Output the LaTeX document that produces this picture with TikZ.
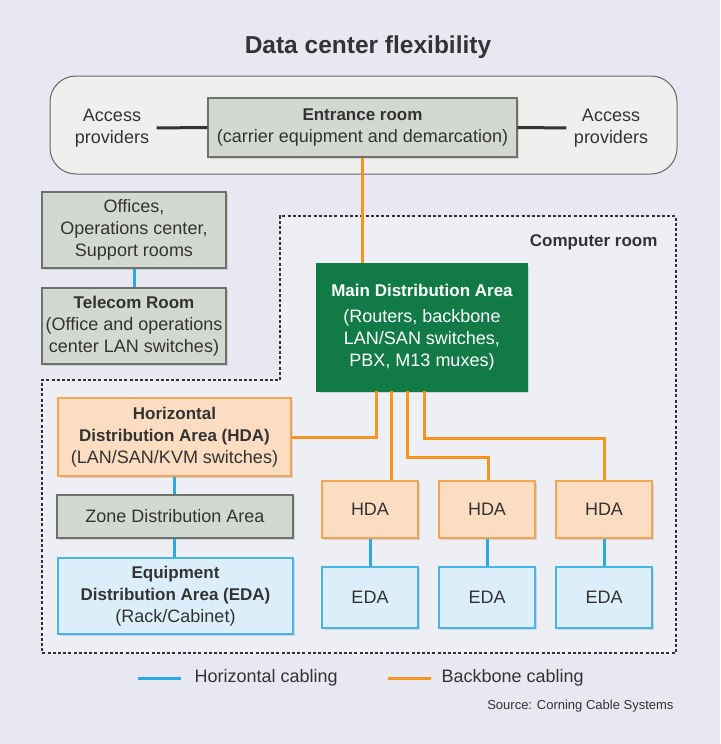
\documentclass[tikz,border=0pt]{standalone}
\usepackage{fontspec}
\setmainfont{Liberation Sans}
\usetikzlibrary{shadows,calc}
\definecolor{bg}{HTML}{E8E8F2}
\definecolor{roomfill}{HTML}{EEEEF5}
\definecolor{outerfill}{HTML}{EFF0EE}
\definecolor{grayfill}{HTML}{D3D8D0}
\definecolor{grayborder}{HTML}{6E716C}
\definecolor{mdagreen}{HTML}{117A46}
\definecolor{peach}{HTML}{FCDDC2}
\definecolor{peachborder}{HTML}{F2A654}
\definecolor{lblue}{HTML}{DCEEF9}
\definecolor{lblueborder}{HTML}{47B5E6}
\definecolor{orangeline}{HTML}{F7941E}
\definecolor{blueline}{HTML}{2BA9E0}
\definecolor{txt}{HTML}{333333}
\tikzset{
  box/.style={draw, line width=1.2pt, align=center, inner sep=2pt, text=txt,
    font=\fontsize{18}{22}\selectfont,
    drop shadow={opacity=0.25, shadow xshift=2pt, shadow yshift=-2pt}},
  graybox/.style={box, fill=grayfill, draw=grayborder},
  peachbox/.style={box, fill=peach, draw=peachborder},
  bluebox/.style={box, fill=lblue, draw=lblueborder},
  greenbox/.style={box, fill=mdagreen, draw=mdagreen, text=white},
  plain/.style={align=center, text=txt, font=\fontsize{18}{22}\selectfont},
  backbone/.style={draw=orangeline, line width=3pt},
  horiz/.style={draw=blueline, line width=3pt},
  darkline/.style={draw=txt, line width=3pt}
}
\newcommand{\bt}[1]{{\fontsize{17}{22}\selectfont\bfseries #1}}
\begin{document}
\begin{tikzpicture}[x=1pt,y=-1pt]
\useasboundingbox[fill=bg] (0,0) rectangle (720,744);

% title
\node[text=txt, font=\fontsize{24.5}{28}\selectfont\bfseries] (title) at (368,47) {Data center flexibility};

% outer rounded area
\draw[fill=outerfill, draw=gray!80!black, line width=1pt, rounded corners=26pt] (50,76) rectangle (677,174);

% computer room dashed region
\path[fill=roomfill] (280,216) -- (676,216) -- (676,653) -- (42,653) -- (42,380) -- (280,380) -- cycle;
\draw[draw=txt, line width=2pt, dash pattern=on 3pt off 2.2pt] (280,380) -- (280,216) -- (676,216) -- (676,653) -- (42,653) -- (42,380) -- cycle;
\node[text=txt, font=\fontsize{17}{20}\selectfont\bfseries, anchor=east] (croom) at (661,242) {Computer room};

% entrance
\node[graybox, minimum width=309pt, minimum height=59pt] (entrance) at (362.5,127.5)
  {\bt{Entrance room}\\(carrier equipment and demarcation)};
\node[plain] (accL) at (112,128) {Access\\providers};
\node[plain] (accR) at (611,128) {Access\\providers};
\draw[darkline, shorten <=4pt] (accL.east) -- (entrance.west);
\draw[darkline, shorten >=4pt] (entrance.east) -- (accR.west);

% offices / telecom
\node[graybox, minimum width=184pt, minimum height=76pt] (offices) at (134,230)
  {Offices,\\Operations center,\\Support rooms};
\node[graybox, minimum width=184pt, minimum height=76pt] (telecom) at (134,326)
  {\bt{Telecom Room}\\(Office and operations\\center LAN switches)};

% MDA
\node[greenbox, minimum width=210pt, minimum height=127pt] (mda) at (422,327.5)
  {\bt{Main Distribution Area}\\[4pt](Routers, backbone\\LAN/SAN switches,\\PBX, M13 muxes)};

% left column
\node[peachbox, minimum width=233pt, minimum height=78pt] (hdaL) at (174.5,437)
  {\bt{Horizontal}\\\bt{Distribution Area (HDA)}\\(LAN/SAN/KVM switches)};
\node[graybox, minimum width=236pt, minimum height=43pt] (zda) at (175,516.5)
  {Zone Distribution Area};
\node[bluebox, minimum width=235pt, minimum height=76pt] (edaL) at (175.5,596)
  {\bt{Equipment}\\\bt{Distribution Area (EDA)}\\(Rack/Cabinet)};

% small HDA / EDA
\foreach \i/\cx in {1/370, 2/487, 3/604} {
  \node[peachbox, minimum width=96pt, minimum height=57pt] (hda\i) at (\cx,509.5) {HDA};
  \node[bluebox, minimum width=96pt, minimum height=61pt] (eda\i) at (\cx,597.5) {EDA};
}

% backbone cabling
\draw[backbone] (entrance.south) -- (entrance.south |- mda.north);
\coordinate (o1) at (376,391);
\coordinate (o2) at (391,391);
\coordinate (o3) at (407,391);
\coordinate (o4) at (424,391);
\coordinate (k3) at (488,457);
\coordinate (k4) at (604,438);
\draw[backbone] (o1) |- (hdaL.east);
\draw[backbone] (o2) -- (o2 |- hda1.north);
\draw[backbone] (o3) |- (k3) -- (k3 |- hda2.north);
\draw[backbone] (o4) |- (k4) -- (k4 |- hda3.north);

% horizontal cabling
\draw[horiz] (offices.south) -- (telecom.north);
\draw[horiz] (hdaL.south) -- (hdaL.south |- zda.north);
\draw[horiz] (hdaL.south |- zda.south) -- (hdaL.south |- edaL.north);
\foreach \i in {1,2,3} {
  \draw[horiz] (hda\i.south) -- (eda\i.north);
}

% legend
\coordinate (lb1) at (138,678);
\coordinate (lb2) at (181,678);
\coordinate (lo1) at (388,678);
\coordinate (lo2) at (431,678);
\draw[horiz] (lb1) -- (lb2);
\draw[backbone] (lo1) -- (lo2);
\node[plain, anchor=west] (lhoriz) at (191,678) {Horizontal cabling};
\node[plain, anchor=west] (lback) at (438,678) {Backbone cabling};
\node[text=txt, font=\fontsize{13}{15}\selectfont, anchor=east] (source) at (677,706) {Source: Corning Cable Systems};
\end{tikzpicture}
\end{document}
